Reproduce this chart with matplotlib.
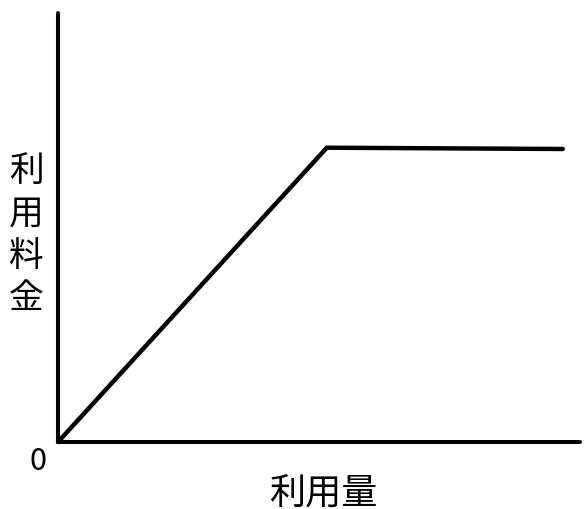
import matplotlib.pyplot as plt

plt.rcParams['font.family'] = ['Noto Sans CJK JP', 'DejaVu Sans']

# 利用量 -> 利用料金 (上限つき)
usage = [0, 51.5, 96.7]
fee = [0, 68.6, 68.3]

fig = plt.figure(figsize=(5.87, 5.10), dpi=100)
ax = fig.add_axes([58 / 587, 67 / 510, 522 / 587, 429 / 510])

ax.plot(usage, fee, color='black', lw=3.2, solid_capstyle='round',
        solid_joinstyle='miter', clip_on=False)

ax.set_xlim(0, 100)
ax.set_ylim(0, 100)
for s in ['top', 'right']:
    ax.spines[s].set_visible(False)
for s in ['left', 'bottom']:
    ax.spines[s].set_linewidth(2.9)
    ax.spines[s].set_color('black')
    ax.spines[s].set_capstyle('round')
ax.set_xticks([])
ax.set_yticks([])

ax.text(-3.9, -4.4, '0', fontsize=22, ha='center', va='center')
ax.text(50.8, -11.7, '利用量', fontsize=26, ha='center', va='center')
ax.text(-6.1, 48.5, '利\n用\n料\n金', fontsize=25, ha='center', va='center',
        linespacing=1.27)

plt.savefig('out.png', dpi=100)
